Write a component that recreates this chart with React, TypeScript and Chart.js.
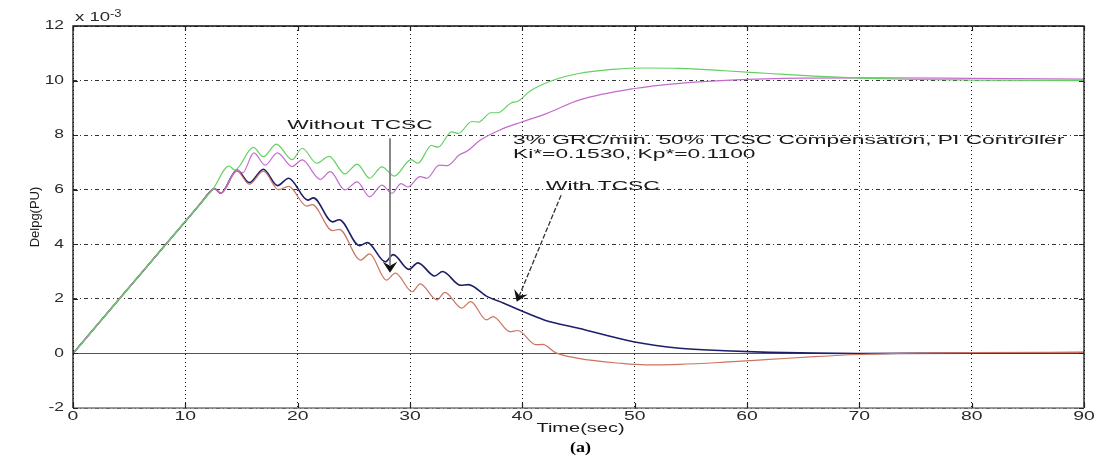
import React, { useEffect, useRef } from "react";
import { Chart, registerables } from "chart.js";

Chart.register(...registerables);

type Pt = [number, number];

// ---- tick values ----
const xTickValues = [0, 10, 20, 30, 40, 50, 60, 70, 80, 90];
const yTickValues = [-2, 0, 2, 4, 6, 8, 10, 12];

// ---- series (time in sec, Delpg in 1e-3 PU) ----
const greenSeries: Pt[] = [
  [0, 0], [4, 1.94], [8, 3.87], [11.2, 5.42], [12.45, 6.02], [13.9, 6.87], [14.4, 6.72],
  [16.05, 7.55], [16.95, 7.21], [18.1, 7.67], [19.5, 7.1], [20.4, 7.52], [21.7, 6.97],
  [22.8, 7.22], [24.2, 6.58], [25.3, 6.94], [26.4, 6.42], [27.5, 6.84], [28.6, 6.5],
  [30.1, 7.1], [30.7, 6.97], [31.9, 7.62], [32.5, 7.56], [33.7, 8.12], [34.3, 8.06],
  [35.5, 8.5], [36.1, 8.48], [37.2, 8.82], [37.8, 8.82], [39.0, 9.18], [39.6, 9.24],
  [40.7, 9.62], [42.8, 10.02], [45.0, 10.26], [48.0, 10.41], [51.0, 10.46], [54.0, 10.45],
  [58.0, 10.36], [62.0, 10.26], [66.0, 10.16], [70.0, 10.09], [75.0, 10.04], [80.0, 10.02],
  [90.0, 10.0],
];

const magentaSeries: Pt[] = [
  [0, 0], [4, 1.94], [8, 3.87], [11.2, 5.42], [12.4, 6.0], [12.6, 6.04], [13.15, 5.87],
  [14.6, 6.72], [15.1, 6.62], [16.1, 7.35], [17.1, 6.9], [18.2, 7.35], [19.5, 6.85],
  [20.4, 7.09], [22.0, 6.38], [22.9, 6.66], [24.2, 5.99], [25.3, 6.29], [26.4, 5.74],
  [27.5, 6.17], [28.4, 5.87], [29.2, 6.22], [29.8, 6.1], [30.9, 6.48], [31.5, 6.42],
  [32.6, 6.9], [33.3, 6.88], [34.4, 7.28], [35.1, 7.42], [36.2, 7.8], [38.0, 8.19],
  [40.0, 8.49], [42.2, 8.8], [45.1, 9.29], [50.0, 9.71], [54.0, 9.9], [58.5, 10.02],
  [65.0, 10.09], [72.0, 10.1], [80.0, 10.08], [90.0, 10.05],
];

const navySeries: Pt[] = [
  [0, 0], [4, 1.94], [8, 3.87], [11.2, 5.42], [12.4, 6.0], [12.6, 6.04], [13.15, 5.87],
  [14.6, 6.72], [15.7, 6.26], [16.95, 6.75], [18.2, 6.15], [19.2, 6.42], [20.9, 5.62],
  [21.4, 5.7], [23.1, 4.82], [23.7, 4.9], [25.5, 3.95], [26.2, 4.06], [27.8, 3.36],
  [28.5, 3.62], [29.9, 3.08], [30.7, 3.32], [32.2, 2.84], [32.9, 3.0], [34.5, 2.5],
  [35.2, 2.52], [36.8, 2.1], [38.3, 1.85], [39.8, 1.58], [42.0, 1.22], [45.0, 0.92],
  [50.0, 0.42], [54.0, 0.19], [58.0, 0.1], [62.0, 0.04], [66.0, 0.01], [70.0, 0.0],
  [80.0, 0.01], [90.0, 0.03],
];

const redSeries: Pt[] = [
  [0, 0], [4, 1.94], [8, 3.87], [11.2, 5.42], [12.4, 6.0], [12.6, 6.04], [13.15, 5.87],
  [14.6, 6.68], [15.7, 6.2], [16.95, 6.68], [18.3, 6.0], [19.2, 6.12], [20.8, 5.4],
  [21.3, 5.45], [23.1, 4.5], [23.7, 4.55], [25.6, 3.42], [26.4, 3.65], [27.9, 2.69],
  [28.7, 2.94], [30.2, 2.26], [30.9, 2.55], [32.4, 1.96], [33.1, 2.24], [34.6, 1.66],
  [35.4, 1.9], [36.8, 1.23], [37.4, 1.35], [38.9, 0.8], [39.6, 0.84], [41.2, 0.32],
  [41.8, 0.33], [43.0, 0.02], [45.0, -0.18], [48.7, -0.36], [51.0, -0.42], [54.0, -0.4],
  [58.0, -0.32], [62.0, -0.22], [66.0, -0.12], [70.0, -0.04], [75.0, 0.01], [80.0, 0.03],
  [90.0, 0.04],
];

const zeroSeries: Pt[] = [[0, 0], [90, 0]];

// ---- annotation texts / anchors (data coordinates) ----
const withoutLabel = "Without TCSC";
const withoutLabelAt: Pt = [25.55, 8.37];
const withoutArrowFrom: Pt = [28.22, 7.89];
const withoutArrowTo: Pt = [28.22, 2.96];

const withLabel = "With TCSC";
const withLabelAt: Pt = [42.1, 6.13];
const withArrowFrom: Pt = [43.45, 5.8];
const withArrowTo: Pt = [39.5, 1.89];

const infoLines = ["3% GRC/min. 50% TCSC Compensation, PI Controller", "Ki*=0.1530, Kp*=0.1100"];
const infoAt: Pt[] = [[39.17, 7.81], [39.17, 7.31]];

const xTitle = "Time(sec)";
const yTitle = "Delpg(PU)";
const caption = "(a)";

const SANS = "'Liberation Sans', Arial, sans-serif";

function stretchText(
  ctx: CanvasRenderingContext2D, text: string, x: number, y: number, sx: number,
  font: string, align: CanvasTextAlign, baseline: CanvasTextBaseline, color: string
) {
  ctx.save();
  ctx.font = font;
  ctx.fillStyle = color;
  ctx.textAlign = align;
  ctx.textBaseline = baseline;
  ctx.translate(x, y);
  ctx.scale(sx, 1);
  ctx.fillText(text, 0, 0);
  ctx.restore();
}

function arrowHead(ctx: CanvasRenderingContext2D, fx: number, fy: number, tx: number, ty: number, len: number, half: number) {
  const dx = tx - fx, dy = ty - fy;
  const d = Math.hypot(dx, dy);
  const ux = dx / d, uy = dy / d;
  const nx = -uy, ny = ux;
  const bx = tx - ux * len, by = ty - uy * len;
  const mx = tx - ux * (len - 4), my = ty - uy * (len - 4);
  ctx.beginPath();
  ctx.moveTo(tx, ty);
  ctx.lineTo(bx + nx * half, by + ny * half);
  ctx.lineTo(mx, my);
  ctx.lineTo(bx - nx * half, by - ny * half);
  ctx.closePath();
  ctx.fillStyle = "#111";
  ctx.fill();
  return [mx, my];
}

const decorPlugin = {
  id: "matlabDecor",
  afterDatasetsDraw(chart: any) {
    const ctx: CanvasRenderingContext2D = chart.ctx;
    const { left, right, top, bottom } = chart.chartArea;
    const xs = chart.scales.x;
    const ys = chart.scales.y;
    const px = (p: Pt) => [xs.getPixelForValue(p[0]), ys.getPixelForValue(p[1])];

    // frame
    ctx.save();
    ctx.lineWidth = 1.3;
    ctx.strokeStyle = "#111";
    ctx.beginPath();
    ctx.moveTo(left, bottom);
    ctx.lineTo(left, top);
    ctx.lineTo(right, top);
    ctx.lineTo(right, bottom);
    ctx.stroke();
    ctx.strokeStyle = "#777";
    ctx.lineWidth = 1.6;
    ctx.beginPath();
    ctx.moveTo(left, bottom);
    ctx.lineTo(right, bottom);
    ctx.stroke();

    // inner ticks
    ctx.strokeStyle = "#222";
    ctx.lineWidth = 1.2;
    ctx.beginPath();
    xTickValues.forEach((v) => {
      const x = Math.round(xs.getPixelForValue(v)) + 0.5;
      ctx.moveTo(x, bottom); ctx.lineTo(x, bottom - 5);
      ctx.moveTo(x, top); ctx.lineTo(x, top + 5);
    });
    yTickValues.forEach((v) => {
      const y = Math.round(ys.getPixelForValue(v)) + 0.5;
      ctx.moveTo(left, y); ctx.lineTo(left + 5, y);
      ctx.moveTo(right, y); ctx.lineTo(right - 5, y);
    });
    ctx.stroke();
    ctx.restore();

    // tick labels
    xTickValues.forEach((v) => {
      stretchText(ctx, String(v), xs.getPixelForValue(v), bottom + 9, 1.55, `12.5px ${SANS}`, "center", "middle", "#2a2a2a");
    });
    yTickValues.forEach((v) => {
      stretchText(ctx, String(v), left - 9, ys.getPixelForValue(v), 1.45, `12px ${SANS}`, "right", "middle", "#2a2a2a");
    });
    // exponent
    stretchText(ctx, "x 10", left + 2, top - 5, 1.55, `12px ${SANS}`, "left", "alphabetic", "#2a2a2a");
    stretchText(ctx, "-3", left + 37, top - 9, 1.3, `10px ${SANS}`, "left", "alphabetic", "#2a2a2a");

    // axis titles
    stretchText(ctx, xTitle, (left + right) / 2 + 2, bottom + 21, 1.6, `12.5px ${SANS}`, "center", "middle", "#1a1a1a");
    ctx.save();
    ctx.translate(35, (top + bottom) / 2);
    ctx.rotate(-Math.PI / 2);
    ctx.font = `13px ${SANS}`;
    ctx.fillStyle = "#1a1a1a";
    ctx.textAlign = "center";
    ctx.textBaseline = "middle";
    ctx.fillText(yTitle, 0, 0);
    ctx.restore();

    // caption
    stretchText(ctx, caption, (left + right) / 2 + 2, bottom + 40, 1.2, `bold 15px 'Liberation Serif', 'Times New Roman', serif`, "center", "middle", "#000");

    // annotations
    const [wx, wy] = px(withoutLabelAt);
    stretchText(ctx, withoutLabel, wx, wy, 1.75, `13px ${SANS}`, "center", "middle", "#1a1a1a");
    infoLines.forEach((t, i) => {
      const [ix, iy] = px(infoAt[i]);
      stretchText(ctx, t, ix, iy, 1.75, `13px ${SANS}`, "left", "middle", "#1a1a1a");
    });
    const [tx, ty] = px(withLabelAt);
    stretchText(ctx, withLabel, tx, ty, 1.75, `13px ${SANS}`, "left", "middle", "#1a1a1a");

    // arrows
    ctx.save();
    const [a1x, a1y] = px(withoutArrowFrom);
    const [b1x, b1y] = px(withoutArrowTo);
    const [m1x, m1y] = arrowHead(ctx, a1x, a1y, b1x, b1y, 11, 7.3);
    ctx.strokeStyle = "#7a7a7a";
    ctx.lineWidth = 1.8;
    ctx.beginPath();
    ctx.moveTo(a1x, a1y);
    ctx.lineTo(m1x, m1y);
    ctx.stroke();

    const [a2x, a2y] = px(withArrowFrom);
    const [b2x, b2y] = px(withArrowTo);
    const [m2x, m2y] = arrowHead(ctx, a2x, a2y, b2x, b2y, 11, 7.3);
    ctx.strokeStyle = "#333";
    ctx.lineWidth = 1.3;
    ctx.setLineDash([5, 2]);
    ctx.beginPath();
    ctx.moveTo(a2x, a2y);
    ctx.lineTo(m2x, m2y);
    ctx.stroke();
    ctx.restore();
  },
};

const toXY = (s: Pt[]) => s.map(([x, y]) => ({ x, y }));

export default function App() {
  const ref = useRef<HTMLCanvasElement | null>(null);

  useEffect(() => {
    if (!ref.current) return;
    const mk = (label: string, data: Pt[], color: string, width: number) => ({
      label,
      data: toXY(data),
      borderColor: color,
      backgroundColor: color,
      borderWidth: width,
      pointRadius: 0,
      cubicInterpolationMode: "monotone",
      fill: false,
    });
    const chart = new Chart(ref.current, {
      type: "line",
      data: {
        datasets: [
          mk("Green", greenSeries, "#62d062", 1.2),
          mk("Magenta", magentaSeries, "#c46ccc", 1.2),
          mk("Red", redSeries, "#cc7462", 1.2),
          mk("Navy", navySeries, "#1e1e6a", 1.6),
          mk("Zero", zeroSeries, "#4848b0", 1.1),
        ] as any,
      },
      options: {
        responsive: false,
        animation: false,
        devicePixelRatio: 1,
        layout: { padding: { left: 0, right: 19, top: 26, bottom: 0 } },
        plugins: { legend: { display: false }, tooltip: { enabled: false } },
        scales: {
          x: {
            type: "linear",
            min: 0,
            max: 90,
            afterBuildTicks: (s: any) => { s.ticks = xTickValues.map((v) => ({ value: v })); },
            afterFit: (s: any) => { s.height = 63; },
            ticks: { display: false },
            grid: { color: "#111", lineWidth: 1, drawTicks: false },
            border: { display: false, dash: [1, 3] },
          },
          y: {
            type: "linear",
            min: -2,
            max: 12,
            afterBuildTicks: (s: any) => { s.ticks = yTickValues.map((v) => ({ value: v })); },
            afterFit: (s: any) => { s.width = 73; },
            ticks: { display: false },
            grid: { color: "#333", lineWidth: 1, drawTicks: false },
            border: { display: false, dash: [4, 3, 1, 3] },
          },
        },
      } as any,
      plugins: [decorPlugin],
    });
    return () => chart.destroy();
  }, []);

  return (
    <div style={{ position: "absolute", left: 0, top: 0, width: 1103, height: 471, background: "#fff" }}>
      <canvas ref={ref} width={1103} height={471} style={{ display: "block", width: 1103, height: 471 }} />
    </div>
  );
}
